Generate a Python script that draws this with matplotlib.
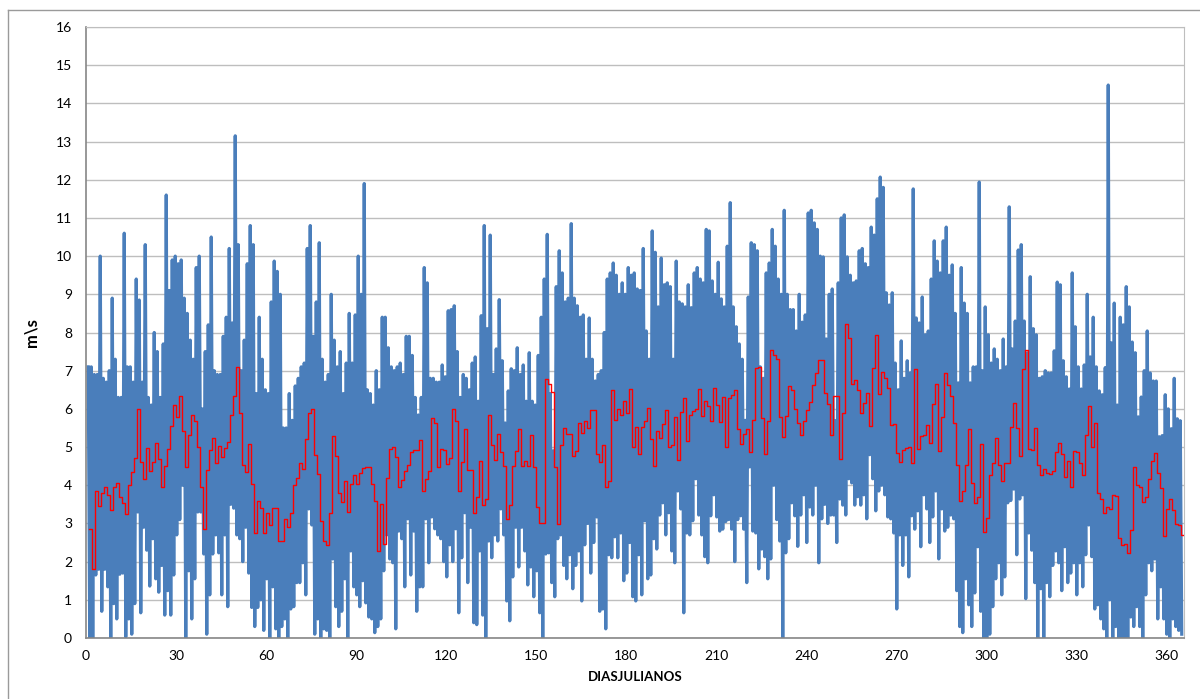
import numpy as np
import matplotlib
matplotlib.use('Agg')
import matplotlib.pyplot as plt
from matplotlib.lines import Line2D

# daily maximum of the hourly wind speed (blue series), days 1..365
maximo_diario = [
    7.1, 7.1, 6.9, 6.9, 10.0, 6.8, 6.7, 7.0, 8.9, 7.3,
    6.3, 6.3, 10.6, 7.1, 7.1, 6.7, 9.4, 8.85, 6.7, 10.3,
    6.3, 6.1, 8.0, 7.5, 6.3, 7.7, 11.6, 9.1, 9.9, 10.0,
    9.8, 9.9, 8.9, 8.5, 7.8, 7.3, 9.7, 10.0, 6.0, 7.5,
    8.2, 10.5, 7.0, 6.9, 6.9, 7.9, 8.4, 10.2, 8.25, 13.15,
    10.3, 7.0, 7.8, 9.8, 10.8, 10.3, 6.4, 8.4, 7.3, 6.5,
    6.4, 8.8, 9.87, 9.6, 9.0, 5.5, 5.5, 6.4, 5.7, 6.6,
    6.8, 7.1, 7.2, 10.2, 10.8, 7.9, 8.8, 10.35, 7.3, 6.7,
    6.9, 9.0, 7.8, 7.1, 7.5, 6.4, 7.2, 8.5, 7.2, 8.46,
    10.0, 9.0, 11.9, 6.5, 6.4, 6.1, 7.0, 6.5, 8.4, 8.4,
    7.6, 7.1, 7.0, 7.1, 7.2, 6.9, 7.9, 7.9, 7.4, 6.3,
    5.84, 6.3, 9.7, 9.3, 6.8, 6.8, 6.7, 6.7, 7.15, 6.84,
    8.57, 8.6, 8.7, 7.5, 6.3, 6.9, 6.8, 6.5, 7.2, 7.36,
    6.2, 8.44, 10.8, 8.1, 10.55, 6.9, 7.57, 8.86, 7.26, 5.63,
    6.47, 7.05, 7.0, 7.6, 6.9, 7.15, 6.2, 7.47, 6.2, 6.1,
    7.4, 8.4, 9.4, 10.57, 6.4, 4.9, 9.2, 10.14, 9.56, 8.8,
    8.9, 10.85, 8.9, 8.7, 8.4, 8.46, 7.3, 8.38, 7.3, 6.73,
    6.9, 7.0, 8.0, 9.4, 9.56, 9.82, 9.5, 9.0, 9.3, 9.0,
    9.7, 9.5, 9.56, 9.14, 9.1, 10.2, 8.04, 7.3, 10.66, 10.1,
    8.67, 9.95, 9.25, 9.3, 9.2, 7.3, 9.87, 8.8, 8.75, 8.67,
    9.25, 8.65, 9.56, 9.7, 9.4, 9.3, 10.7, 10.66, 9.35, 9.0,
    9.84, 8.88, 8.67, 10.26, 11.4, 8.67, 8.15, 7.7, 7.3, 5.7,
    8.93, 10.35, 10.3, 10.14, 7.1, 6.8, 9.56, 9.82, 10.7, 10.26,
    9.4, 9.0, 11.2, 9.0, 8.6, 8.6, 8.04, 9.0, 8.27, 8.46,
    11.13, 11.2, 10.87, 10.7, 10.0, 9.98, 7.83, 9.0, 9.14, 5.69,
    9.3, 11.0, 11.08, 9.98, 9.5, 9.3, 9.35, 10.14, 10.2, 9.8,
    9.7, 10.76, 10.55, 11.5, 12.07, 11.8, 9.04, 8.72, 9.04, 7.2,
    6.5, 7.78, 6.8, 7.26, 6.94, 11.76, 8.38, 8.25, 8.93, 7.94,
    8.04, 9.4, 10.4, 9.87, 9.56, 10.4, 10.76, 9.5, 9.77, 8.5,
    6.68, 9.7, 8.77, 8.5, 6.68, 7.1, 7.1, 11.94, 7.0, 8.67,
    7.94, 7.2, 7.57, 7.3, 7.0, 7.83, 7.1, 11.29, 7.57, 8.3,
    10.16, 10.3, 8.3, 7.47, 9.46, 8.1, 7.94, 6.8, 6.84, 7.0,
    6.94, 6.94, 7.52, 9.32, 9.25, 7.26, 6.84, 6.52, 9.56, 8.15,
    7.1, 6.52, 7.15, 9.0, 7.36, 8.4, 7.1, 6.47, 6.37, 7.08,
    14.48, 7.73, 8.77, 6.1, 8.4, 8.2, 9.2, 8.67, 7.75, 7.47,
    5.79, 6.31, 7.0, 8.04, 6.94, 6.73, 6.73, 5.27, 5.3, 6.37,
    6.0, 5.48, 6.8, 5.74, 5.69,
]

# daily minimum of the hourly wind speed (blue series)
minimo_diario = [
    0, 0, 1.65, 1.8, 0.7, 1.8, 1.34, 0, 0.9, 0.5,
    1.67, 1.7, 0.03, 0.5, 0.1, 0.9, 3.3, 0.66, 2.9, 2.3,
    1.36, 2.6, 1.55, 1.2, 1.9, 0.6, 1.24, 0.6, 1.65, 2.7,
    3.1, 4.0, 0, 1.76, 0.5, 1.55, 3.3, 3.3, 2.2, 0.1,
    1.13, 2.2, 2.7, 2.23, 1.13, 2.7, 0.82, 3.5, 3.4, 2.7,
    2.6, 2.0, 2.9, 1.7, 0.8, 0.3, 0.8, 1.0, 0.2, 1.55,
    0, 1.34, 0.24, 0, 0.3, 0.5, 0, 0.76, 0.82, 1.45,
    1.45, 1.97, 1.13, 3.38, 2.96, 0.1, 0.5, 0, 0.24, 0.2,
    0, 2.07, 0.82, 0.3, 0.7, 1.55, 0, 2.28, 1.34, 1.13,
    0.82, 1.5, 0.92, 0.55, 0.5, 0.14, 0.3, 0.5, 1.76, 2.7,
    2.07, 1.97, 0.24, 2.8, 2.6, 1.34, 3.12, 1.65, 2.8, 0.7,
    1.34, 1.34, 3.12, 1.97, 3.17, 2.86, 2.7, 2.6, 2.0, 1.6,
    2.44, 2.0, 2.86, 0.66, 2.1, 3.28, 1.45, 2.9, 0.4, 0.35,
    2.28, 0.6, 0, 2.54, 2.1, 2.7, 2.54, 3.38, 2.7, 0.97,
    0.45, 1.6, 2.9, 1.86, 2.9, 2.28, 1.39, 1.86, 1.08, 1.76,
    0.66, 0, 2.2, 2.23, 1.45, 1.08, 2.6, 2.7, 1.9, 1.55,
    2.18, 1.29, 1.9, 2.28, 0.97, 2.44, 3.0, 1.7, 2.5, 3.17,
    0.7, 0.76, 0.24, 2.18, 2.1, 2.65, 2.1, 2.75, 1.5, 1.7,
    2.5, 1.08, 0.97, 2.18, 1.13, 3.07, 1.55, 1.65, 2.6, 2.33,
    3.22, 3.54, 2.7, 3.28, 2.28, 1.97, 3.85, 3.38, 0.66, 2.75,
    2.7, 3.07, 4.17, 3.22, 2.7, 2.13, 1.97, 3.2, 3.75, 3.17,
    2.8, 2.85, 3.05, 3.1, 2.85, 2.0, 3.1, 3.2, 2.85, 1.45,
    4.48, 2.8, 2.75, 1.81, 2.33, 2.13, 1.55, 2.07, 4.0, 3.1,
    2.54, 0, 2.23, 2.6, 3.54, 3.2, 2.4, 3.22, 3.75, 2.5,
    3.43, 3.22, 4.0, 1.97, 3.12, 3.5, 3.0, 3.22, 3.22, 2.5,
    3.64, 3.48, 3.22, 4.17, 4.06, 3.48, 3.7, 3.48, 3.75, 3.12,
    4.8, 4.17, 3.33, 3.85, 4.0, 3.75, 3.17, 3.12, 2.75, 0.76,
    2.7, 1.9, 2.7, 1.6, 3.2, 2.85, 3.33, 2.39, 3.75, 3.38,
    2.5, 3.17, 3.85, 2.07, 3.38, 2.8, 2.9, 3.22, 3.12, 1.24,
    0.3, 0.14, 1.55, 0.87, 0.3, 1.18, 2.39, 0.7, 0, 0,
    0.1, 0.82, 1.55, 1.97, 1.13, 1.6, 3.54, 3.6, 3.9, 2.18,
    3.64, 3.75, 1.03, 2.75, 2.3, 1.45, 0, 1.29, 0, 1.45,
    1.08, 1.9, 2.28, 1.97, 1.24, 2.39, 1.45, 1.7, 1.97, 1.13,
    1.97, 1.34, 2.18, 2.96, 2.13, 0.76, 0.87, 0.5, 0.24, 0,
    1.0, 0, 0.3, 0, 0, 0, 0, 0.55, 0.3, 0.82,
    0.3, 0, 1.13, 1.97, 1.76, 2.07, 0.5, 1.34, 0.5, 0.1,
    0, 0.5, 0.3, 0.2, 0.1,
]

# daily mean (red step line)
promedio_diario = [
    2.86, 1.81, 3.85, 3.46, 3.8, 3.96, 3.75, 3.35, 3.96, 4.06,
    3.7, 3.54, 3.25, 4.0, 4.35, 4.72, 6.0, 4.6, 4.17, 4.97,
    4.38, 4.6, 5.1, 4.7, 3.96, 4.5, 4.95, 5.56, 6.1, 5.79,
    6.35, 5.42, 4.48, 5.32, 5.84, 5.69, 5.0, 3.96, 2.86, 4.4,
    4.93, 5.24, 4.57, 5.03, 4.74, 4.97, 5.13, 5.84, 6.34, 7.1,
    5.9, 4.53, 4.35, 5.09, 4.04, 2.75, 3.59, 3.41, 2.75, 3.28,
    2.96, 3.41, 3.41, 2.54, 2.54, 3.12, 2.91, 3.28, 4.01, 4.19,
    4.57, 4.43, 5.21, 5.9, 6.0, 4.8, 4.29, 3.07, 2.54, 2.44,
    3.28, 5.29, 4.76, 3.8, 3.57, 4.12, 3.31, 4.03, 4.27, 4.03,
    4.32, 4.45, 4.48, 4.48, 4.03, 3.59, 2.28, 3.52, 2.47, 4.2,
    4.95, 5.01, 4.74, 3.96, 4.14, 4.38, 4.53, 4.87, 4.92, 4.92,
    5.18, 3.85, 4.17, 4.38, 5.76, 5.63, 4.48, 4.95, 4.92, 4.55,
    4.72, 6.0, 5.69, 3.85, 4.61, 5.48, 4.41, 4.41, 3.28, 3.7,
    4.64, 3.49, 3.64, 5.84, 5.06, 4.67, 5.34, 4.87, 4.51, 3.12,
    3.49, 4.5, 4.9, 5.48, 4.5, 4.64, 4.5, 5.32, 4.48, 3.43,
    3.02, 3.02, 6.79, 6.66, 6.44, 4.48, 2.99, 5.06, 5.5, 5.34,
    5.34, 4.76, 4.9, 5.63, 5.37, 5.69, 5.51, 5.97, 5.97, 4.83,
    4.61, 5.06, 3.96, 4.12, 6.49, 5.72, 6.0, 5.84, 6.21, 5.9,
    6.52, 5.01, 5.53, 4.82, 5.53, 5.69, 6.03, 5.21, 4.5, 5.42,
    5.24, 5.61, 5.97, 5.01, 5.06, 5.79, 4.67, 5.92, 6.28, 5.16,
    5.84, 5.95, 6.0, 6.52, 5.81, 6.21, 6.07, 5.69, 6.55, 6.1,
    5.66, 6.31, 5.01, 6.28, 6.37, 6.49, 5.48, 5.09, 5.34, 5.48,
    4.87, 5.71, 7.07, 7.1, 5.77, 4.83, 5.69, 7.54, 7.41, 7.31,
    5.79, 5.27, 5.81, 6.6, 6.49, 6.0, 5.63, 5.32, 5.69, 5.97,
    6.18, 6.63, 6.94, 7.28, 7.28, 6.42, 6.13, 5.32, 6.34, 6.34,
    4.69, 5.9, 8.23, 7.86, 6.66, 6.75, 6.5, 5.9, 6.16, 6.42,
    5.55, 7.08, 7.94, 6.39, 6.97, 6.82, 6.55, 5.58, 5.6, 4.85,
    4.61, 4.92, 4.97, 5.01, 4.57, 7.05, 4.95, 5.3, 5.32, 5.58,
    5.11, 6.13, 6.66, 4.9, 5.79, 6.94, 6.63, 6.35, 5.63, 4.53,
    3.59, 3.85, 4.53, 5.48, 4.06, 3.54, 3.7, 5.09, 2.77, 3.14,
    4.27, 4.59, 5.25, 4.53, 4.12, 4.59, 4.59, 5.53, 6.16, 5.51,
    4.76, 7.05, 7.54, 4.95, 4.92, 5.5, 4.53, 4.27, 4.43, 4.32,
    4.29, 4.38, 4.87, 5.11, 4.83, 4.22, 4.64, 3.96, 4.9, 4.87,
    4.59, 4.27, 5.32, 6.07, 5.01, 5.63, 3.8, 3.64, 3.28, 3.43,
    3.38, 3.75, 3.73, 2.62, 2.44, 2.47, 2.23, 2.84, 4.48, 4.01,
    3.96, 3.56, 3.7, 4.17, 4.64, 4.85, 4.32, 3.94, 2.68, 3.38,
    3.64, 3.36, 2.99, 2.96, 2.7,
]

dias = np.arange(1, len(promedio_diario) + 1)

# blue trace: up to the daily max, down to the daily min
x_azul = np.column_stack([dias - 0.25, dias + 0.25]).ravel()
y_azul = np.column_stack([maximo_diario, minimo_diario]).ravel()

# red steps: each daily mean spans its day
x_rojo = np.append(dias, dias[-1] + 1)
y_rojo = np.append(promedio_diario, promedio_diario[-1])

plt.rcParams['font.family'] = ['Lato', 'DejaVu Sans']

fig = plt.figure(figsize=(12, 6.99), dpi=100)
ax = fig.add_axes([86 / 1200, 1 - 638 / 699, (1184 - 86) / 1200, (638 - 27) / 699])

ax.plot(x_azul, y_azul, color='#4A7EBB', linewidth=2.3, solid_joinstyle='round', zorder=2)
ax.step(x_rojo, y_rojo, where='post', color='#FF0000', linewidth=1.0, zorder=3)

ax.set_xlim(0, 366)
ax.set_ylim(0, 16)
ax.set_xticks(np.arange(0, 361, 30))
ax.set_yticks(np.arange(0, 17, 1))
ax.tick_params(length=0, labelsize=10, colors='black')
ax.tick_params(axis='y', pad=10)
ax.tick_params(axis='x', pad=9)
ax.yaxis.grid(True, color='#BEBEBE', linewidth=1.0)
ax.set_axisbelow(True)

for lado in ['left', 'bottom']:
    ax.spines[lado].set_color('#868686')
    ax.spines[lado].set_linewidth(1.2)
ax.spines['top'].set_color('#BEBEBE')
ax.spines['right'].set_color('#BEBEBE')

ax.set_xlabel('DIASJULIANOS', fontsize=9.5, fontweight='bold', labelpad=6)
ax.set_ylabel('m\\s', fontsize=12, fontweight='bold', labelpad=12)

# chart area border
fig.add_artist(Line2D([8 / 1200, 8 / 1200], [0, 1 - 10 / 699], color='#9A9A9A', linewidth=1.0))
fig.add_artist(Line2D([8 / 1200, 1], [1 - 10 / 699, 1 - 10 / 699], color='#9A9A9A', linewidth=1.0))

fig.savefig('out.png', dpi=100)
